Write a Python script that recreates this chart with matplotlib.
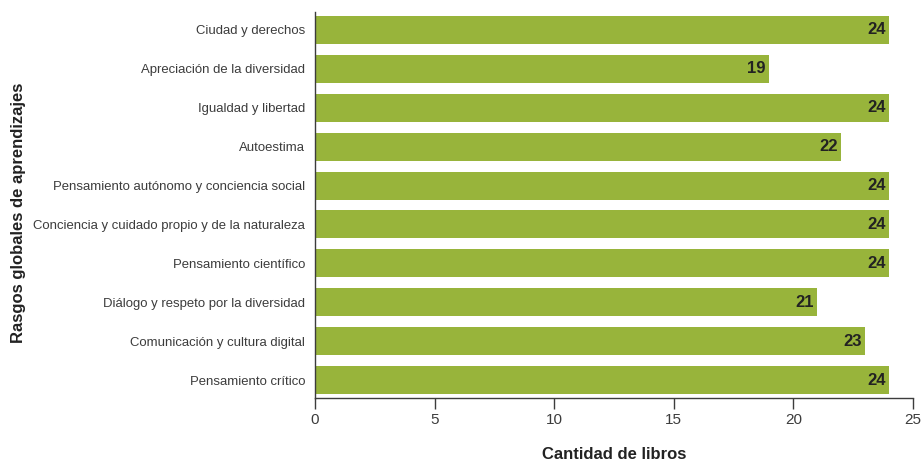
import matplotlib
matplotlib.use("Agg")
import matplotlib.pyplot as plt

## Data (top to bottom as shown)
categorias = [
    "Ciudad y derechos",
    "Apreciación de la diversidad",
    "Igualdad y libertad",
    "Autoestima",
    "Pensamiento autónomo y conciencia social",
    "Conciencia y cuidado propio y de la naturaleza",
    "Pensamiento científico",
    "Diálogo y respeto por la diversidad",
    "Comunicación y cultura digital",
    "Pensamiento crítico",
]
libros = [24, 19, 24, 22, 24, 24, 24, 21, 23, 24]
xticks = [0, 5, 10, 15, 20, 25]

plt.rcParams['font.family'] = ["Liberation Sans Narrow", "Liberation Sans", "DejaVu Sans"]

verde = "#98b43b"
gris = "#3c3c3c"

fig = plt.figure(figsize=(9.22, 4.62), dpi=100)
ax = fig.add_axes([0.3416, 0.1385, 0.6486, 0.8355])

pos = list(range(len(categorias)))[::-1]
ax.barh(pos, libros, height=0.72, color=verde)

for p, v in zip(pos, libros):
    ax.text(v - 0.15, p, str(v), ha="right", va="center",
            fontsize=12, fontweight="bold", color="#222222")

ax.set_yticks(pos)
ylabs = ax.set_yticklabels(categorias, fontsize=11.5, color=gris)
ax.set_xticks(xticks)
ax.set_xticklabels([str(t) for t in xticks], fontsize=11, color=gris)
ax.set_xlim(0, 25)
ax.set_ylim(-0.46, 9.46)

ax.tick_params(axis="y", length=0, pad=7)
ax.tick_params(axis="x", length=8, width=1, color=gris, pad=3, direction="out")

# shrink the category labels so the longest one fits like in the original
fig.canvas.draw()
r = fig.canvas.get_renderer()
widest = max(t.get_window_extent(r).width for t in ylabs)
if widest > 272:
    for t in ylabs:
        t.set_fontsize(11.5 * 272 / widest)

for s in ["top", "right"]:
    ax.spines[s].set_visible(False)
for s in ["left", "bottom"]:
    ax.spines[s].set_color(gris)
    ax.spines[s].set_linewidth(1)

ax.set_xlabel("Cantidad de libros", fontsize=12, fontweight="bold", color="#222222", labelpad=14)
fig.text(0.02, 0.54, "Rasgos globales de aprendizajes", rotation=90, ha="center", va="center",
         fontsize=12, fontweight="bold", color="#222222")

plt.savefig("out.png", dpi=100)
